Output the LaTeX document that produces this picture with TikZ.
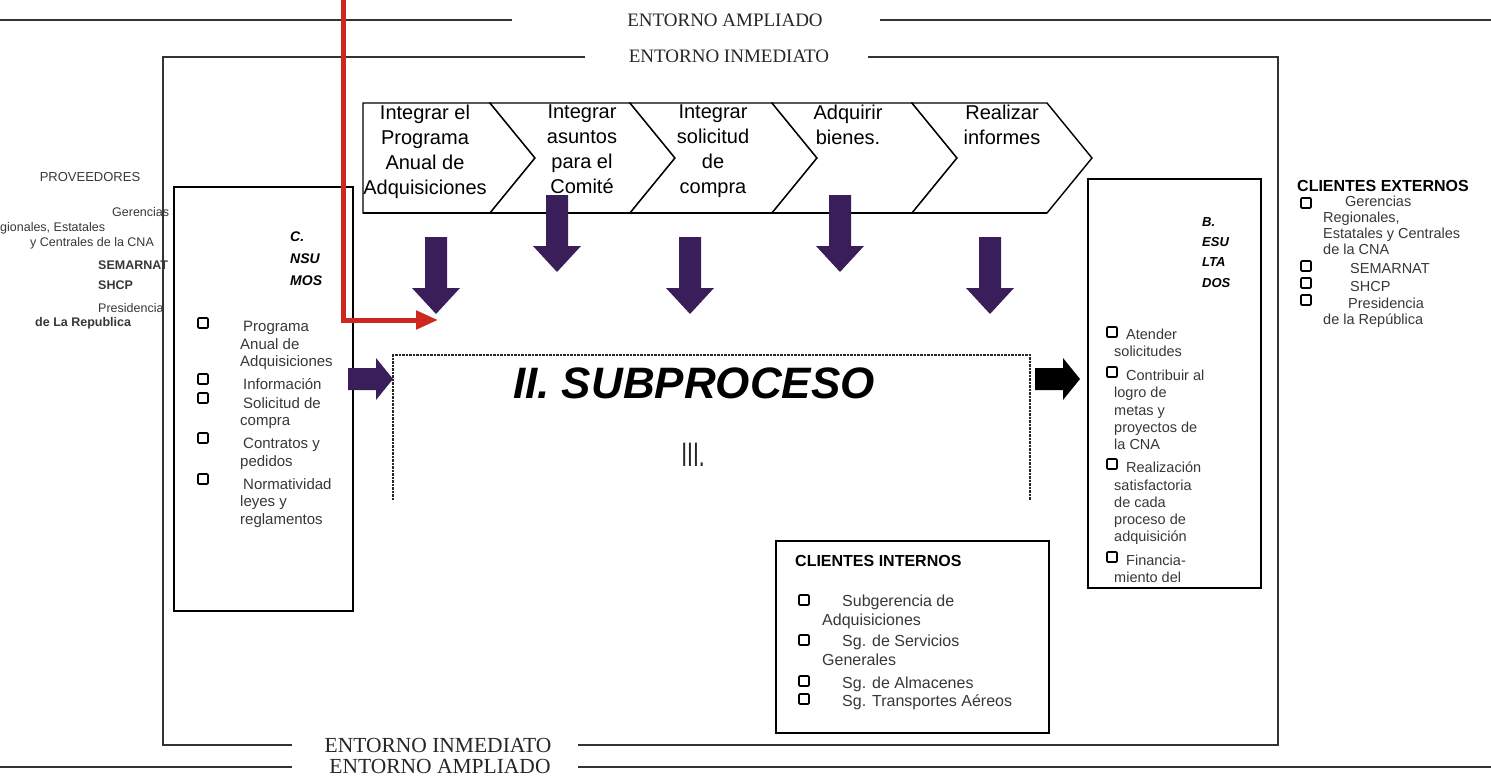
\documentclass[tikz,border=0pt]{standalone}
\usepackage{fontspec}
\setmainfont{Liberation Sans}
\newfontfamily\entfont{Liberation Serif}
\newfontfamily\condfont[FakeStretch=0.62]{Liberation Sans}
\usetikzlibrary{arrows.meta}

\definecolor{flowpurple}{RGB}{58,30,90}
\definecolor{inputred}{RGB}{204,40,32}
\definecolor{listgray}{RGB}{55,55,55}

\newcommand{\fsz}[2]{\fontsize{#1}{#2}\selectfont}

\begin{document}
\begin{tikzpicture}[x=1pt,y=-1pt,
  frameline/.style={line width=1.2pt, black!80},
  subline/.style={line width=1.2pt, dash pattern=on 2.5pt off 1pt, black!85},
  boxline/.style={draw, line width=2pt, inner sep=0pt, anchor=north west},
  entlabel/.style={font=\entfont\fsz{19}{19}, inner sep=0pt, text=black!85},
  entlabelbig/.style={font=\entfont\fsz{21.5}{21.5}, inner sep=0pt, text=black!85},
  chevtext/.style={font=\fsz{20}{25}, align=center, anchor=north, inner sep=0pt},
  boxitem/.style={font=\fsz{15}{17.5}, align=left, anchor=north west, inner sep=0pt, text=listgray},
  outitem/.style={font=\fsz{14.5}{17.2}, align=left, anchor=north west, inner sep=0pt, text=listgray},
  sideitem/.style={font=\fsz{12.5}{15}, anchor=west, inner sep=0pt, text=listgray},
  sidebold/.style={sideitem, font=\bfseries\fsz{12.5}{15}},
  extitem/.style={font=\fsz{14.5}{16}, align=left, anchor=north west, inner sep=0pt, text=listgray},
  intitem/.style={font=\fsz{16}{18.5}, align=left, anchor=north west, inner sep=0pt, text=listgray},
  boxtitle/.style={font=\bfseries\itshape\fsz{14}{22}, align=left, anchor=north west, inner sep=0pt},
  headtext/.style={font=\bfseries\fsz{16}{16}, anchor=west, inner sep=0pt},
  chevron/.style={draw, line width=1.4pt, fill=white},
  pics/tickbox/.style={code={\draw[line width=1.6pt, rounded corners=1pt] (-5,-5) rectangle (5,5);}},
  pics/downarrow/.style={code={\fill[flowpurple] (-11,0) -- (11,0) -- (11,51) -- (24,51) -- (0,77) -- (-24,51) -- (-11,51) -- cycle;}},
  pics/rightarrow/.style={code={\fill[#1] (0,-11) -- (28,-11) -- (28,-21) -- (45,0) -- (28,21) -- (28,11) -- (0,11) -- cycle;}},
]
\useasboundingbox (0,0) rectangle (1491,776);
\clip (0,0) rectangle (1491,776);

% ---------- environment frames ----------
\node[entlabel] (ampTop) at (725,20) {ENTORNO AMPLIADO};
\node[entlabel] (inmTop) at (729,56) {ENTORNO INMEDIATO};
\node[entlabelbig] (inmBot) at (438,745) {ENTORNO INMEDIATO};
\node[entlabelbig] (ampBot) at (440,766) {ENTORNO AMPLIADO};

\draw[frameline] (0,20) -- (512,20);
\draw[frameline] (880,20) -- (1491,20);
\draw[frameline] (585,57) -- (163,57) -- (163,745) -- (292,745);
\draw[frameline] (868,57) -- (1278,57) -- (1278,745) -- (578,745);
\draw[frameline] (0,767) -- (292,767);
\draw[frameline] (578,767) -- (1491,767);

% ---------- process chevrons ----------
\draw[chevron] (363,103) -- (490,103) -- (535,158) -- (490,213) -- (363,213) -- cycle;
\draw[chevron] (490,103) -- (630,103) -- (675,158) -- (630,213) -- (490,213) -- (535,158) -- cycle;
\draw[chevron] (630,103) -- (772,103) -- (817,158) -- (772,213) -- (630,213) -- (675,158) -- cycle;
\draw[chevron] (772,103) -- (912,103) -- (957,158) -- (912,213) -- (772,213) -- (817,158) -- cycle;
\draw[chevron] (912,103) -- (1047,103) -- (1092,158) -- (1047,213) -- (912,213) -- (957,158) -- cycle;
\draw[line width=2.4pt] (363,213) -- (1047,213);

\node[chevtext] (ch1) at (425,105) {Integrar el\\Programa\\Anual de\\Adquisiciones};
\node[chevtext] (ch2) at (582,105) {Integrar\\asuntos\\para el\\Comité};
\node[chevtext] (ch3) at (713,105) {Integrar\\solicitud\\de\\compra};
\node[chevtext] (ch4) at (848,105) {Adquirir\\bienes.};
\node[chevtext] (ch5) at (1002,105) {Realizar\\informes};

% ---------- block arrows into the subprocess ----------
\pic at (436,237) {downarrow};
\pic at (557,195) {downarrow};
\pic at (690,237) {downarrow};
\pic at (840,195) {downarrow};
\pic at (990,237) {downarrow};

% ---------- subprocess area ----------
\draw[subline] (393,500) -- (393,355) -- (1030,355) -- (1030,500);
\node[font=\bfseries\itshape\fsz{44}{44}, inner sep=0pt] (subproc) at (694,383) {II. SUBPROCESO};
\node[font=\condfont\fsz{34}{34}, inner sep=0pt, text=black!85] (subnum) at (693,455) {III.};

% ---------- inputs box ----------
\node[boxline, minimum width=179pt, minimum height=424pt] (insumos) at (173,186) {};
\node[boxtitle] (insTitle) at (290,232) {C.\\NSU\\MOS};
\pic at (203,323) {tickbox};
\pic at (203,379) {tickbox};
\pic at (203,398) {tickbox};
\pic at (203,438) {tickbox};
\pic at (203,479) {tickbox};
\node[boxitem] (in1) at (240,321) {\hspace*{3pt}Programa\\Anual de\\Adquisiciones};
\node[boxitem] (in2) at (240,378) {\hspace*{3pt}Información};
\node[boxitem] (in3) at (240,397) {\hspace*{3pt}Solicitud de\\compra};
\node[boxitem] (in4) at (240,438) {\hspace*{3pt}Contratos y\\pedidos};
\node[boxitem] (in5) at (240,478) {\hspace*{3pt}Normatividad\\leyes y\\reglamentos};

\pic at (348,379) {rightarrow=flowpurple};

% ---------- outputs box ----------
\node[boxline, minimum width=173pt, minimum height=409pt] (resultados) at (1087,178) {};
\node[boxtitle, font=\bfseries\itshape\fsz{13}{20.3}] (resTitle) at (1202,217) {B.\\ESU\\LTA\\DOS};
\pic at (1112,332) {tickbox};
\pic at (1112,372) {tickbox};
\pic at (1112,464) {tickbox};
\pic at (1112,557) {tickbox};
\node[outitem] (out1) at (1114,329) {\hspace*{12pt}Atender\\solicitudes};
\node[outitem] (out2) at (1114,370) {\hspace*{12pt}Contribuir al\\logro de\\metas y\\proyectos de\\la CNA};
\node[outitem] (out3) at (1114,462) {\hspace*{12pt}Realización\\satisfactoria\\de cada\\proceso de\\adquisición};
\node[outitem] (out4) at (1114,555) {\hspace*{12pt}Financia-\\miento del};

\pic at (1035,379) {rightarrow=black};

% ---------- red input line ----------
\coordinate (redTop) at (343,-4);
\coordinate (redTip) at (438,320);
\draw[inputred, line width=5pt, -{Triangle[length=22pt,width=18pt]}] (redTop) |- (redTip);

% ---------- suppliers ----------
\node[font=\fsz{13}{13}, inner sep=0pt, text=listgray] (prov) at (90,177) {PROVEEDORES};
\node[sideitem] (pv1) at (112,212) {Gerencias};
\node[sideitem] (pv2) at (0,228) {gionales, Estatales};
\node[sideitem] (pv3) at (30,243) {y Centrales de la CNA};
\node[sidebold] (pv4) at (98,265) {SEMARNAT};
\node[sidebold] (pv5) at (98,285) {SHCP};
\node[sideitem] (pv6) at (98,308) {Presidencia};
\node[sidebold] (pv7) at (35,323) {de La Republica};

% ---------- external clients ----------
\node[headtext] (extTitle) at (1297,186) {CLIENTES EXTERNOS};
\pic at (1306,203) {tickbox};
\pic at (1306,266) {tickbox};
\pic at (1306,283) {tickbox};
\pic at (1306,300) {tickbox};
\node[extitem] (ex1) at (1323,196) {\hspace*{22pt}Gerencias\\Regionales,\\Estatales y Centrales\\de la CNA};
\node[extitem] (ex2) at (1323,263) {\hspace*{27pt}SEMARNAT};
\node[extitem] (ex3) at (1323,281) {\hspace*{27pt}SHCP};
\node[extitem] (ex4) at (1323,298) {\hspace*{25pt}Presidencia\\de la República};

% ---------- internal clients ----------
\node[boxline, minimum width=273pt, minimum height=192pt] (internos) at (775,540) {};
\node[headtext] (intTitle) at (795,561) {CLIENTES INTERNOS};
\pic at (804,600) {tickbox};
\pic at (804,640) {tickbox};
\pic at (804,681) {tickbox};
\pic at (804,699) {tickbox};
\node[intitem] (ci1) at (822,595) {\hspace*{20pt}Subgerencia de\\Adquisiciones};
\node[intitem] (ci2) at (822,635) {\hspace*{20pt}Sg. de Servicios\\Generales};
\node[intitem] (ci3) at (822,677) {\hspace*{20pt}Sg. de Almacenes};
\node[intitem] (ci4) at (822,695) {\hspace*{20pt}Sg. Transportes Aéreos};
\end{tikzpicture}
\end{document}
